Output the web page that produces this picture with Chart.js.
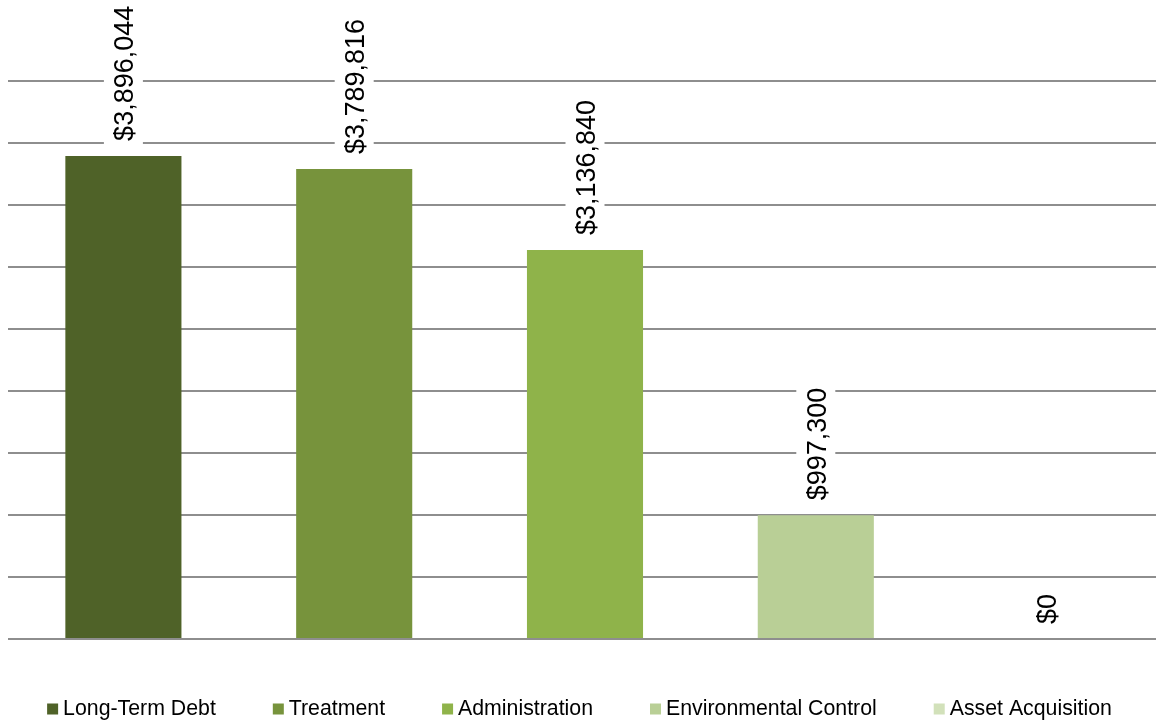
<!DOCTYPE html>
<html>
<head>
<meta charset="utf-8">
<script src="https://cdn.jsdelivr.net/npm/chart.js@4/dist/chart.umd.min.js"></script>
<style>
  html, body { margin: 0; padding: 0; background: #fff; overflow: hidden; }
  #wrap { width: 1162px; height: 724px; position: relative; }
</style>
</head>
<body>
<div id="wrap"><canvas id="c"></canvas></div>
<script>
const categories = ["Long-Term Debt", "Treatment", "Administration", "Environmental Control", "Asset Acquisition"];
const values = [3896044, 3789816, 3136840, 997300, 0];
const colors = ["#4F6228", "#77933C", "#8FB34A", "#B9CF96", "#D2E1BA"];
const yTicks = [0, 500000, 1000000, 1500000, 2000000, 2500000, 3000000, 3500000, 4000000, 4500000];

const FONT = "'Liberation Sans', Arial, sans-serif";

const valueLabels = {
  id: 'valueLabels',
  afterDatasetsDraw(chart) {
    const ctx = chart.ctx;
    const meta = chart.getDatasetMeta(0);
    meta.data.forEach((bar, i) => {
      const txt = '$' + values[i].toLocaleString('en-US');
      ctx.save();
      ctx.translate(bar.x, bar.y - 15);
      ctx.rotate(-Math.PI / 2);
      ctx.font = '27px ' + FONT;
      const w = ctx.measureText(txt).width;
      ctx.fillStyle = '#ffffff';
      ctx.fillRect(-4, -19.5, w + 8, 39);
      ctx.fillStyle = '#000000';
      ctx.textAlign = 'left';
      ctx.textBaseline = 'alphabetic';
      ctx.fillText(txt, 0, 9.8);
      ctx.restore();
    });
  }
};

const customLegend = {
  id: 'customLegend',
  afterDraw(chart) {
    const ctx = chart.ctx;
    ctx.save();
    ctx.font = '21.3px ' + FONT;
    const box = 11, gapText = 5, gapItem = 57;
    const widths = categories.map(c => ctx.measureText(c).width);
    const total = widths.reduce((a, w) => a + box + gapText + w, 0) + gapItem * (categories.length - 1);
    let x = 579.5 - total / 2;
    const cy = 709;
    categories.forEach((c, i) => {
      ctx.fillStyle = colors[i];
      ctx.fillRect(x, cy - 5.5, box, box);
      ctx.fillStyle = '#000';
      ctx.textAlign = 'left';
      ctx.textBaseline = 'middle';
      ctx.fillText(c, x + box + gapText, cy + 0.5);
      x += box + gapText + widths[i] + gapItem;
    });
    ctx.restore();
  }
};

new Chart(document.getElementById('c'), {
  type: 'bar',
  data: {
    labels: categories,
    datasets: [{
      data: values,
      backgroundColor: colors,
      borderWidth: 0,
      barPercentage: 0.503,
      categoryPercentage: 1.0
    }]
  },
  options: {
    responsive: true,
    maintainAspectRatio: false,
    animation: false,
    layout: { padding: { top: 81, left: 8, right: 0, bottom: 85 } },
    plugins: {
      tooltip: { enabled: false },
      legend: { display: false }
    },
    scales: {
      x: {
        display: true,
        grid: { display: false, drawTicks: false },
        border: { display: false },
        ticks: { display: false }
      },
      y: {
        min: 0,
        max: 4500000,
        afterBuildTicks: (s) => { s.ticks = yTicks.map(v => ({ value: v })); },
        grid: { color: '#8E8E8E', lineWidth: 2, drawTicks: false },
        border: { display: false },
        ticks: { display: false }
      }
    }
  },
  plugins: [valueLabels, customLegend]
});
</script>
</body>
</html>
